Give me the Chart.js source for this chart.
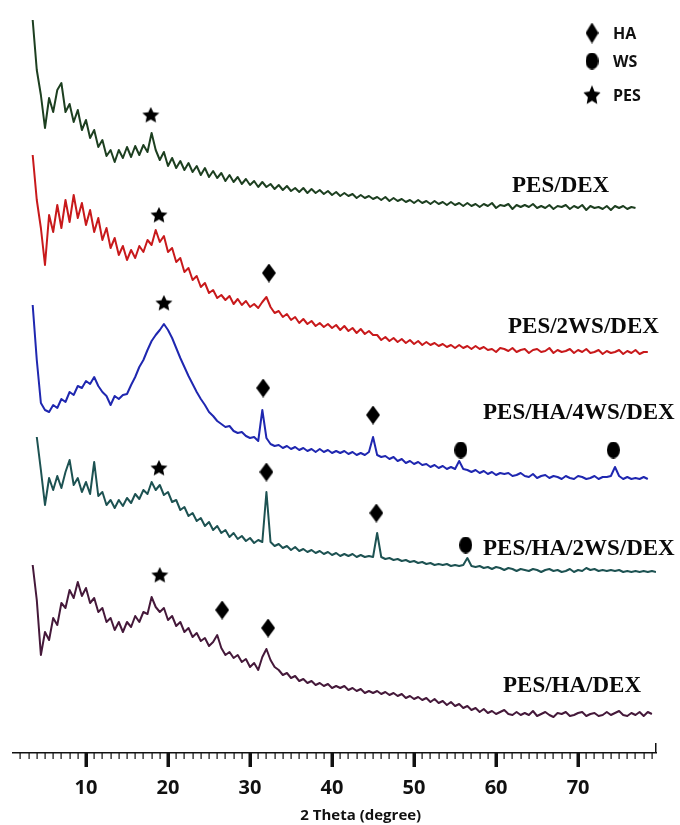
<!DOCTYPE html>
<html>
<head>
<meta charset="utf-8">
<script src="https://cdn.jsdelivr.net/npm/chart.js@4.4.1/dist/chart.umd.min.js"></script>
<style>
  html, body { margin: 0; padding: 0; background: #fff; }
  #xrd { display: block; }
</style>
</head>
<body>
<canvas id="xrd" width="680" height="825"></canvas>
<script>
// ========== Dados ==========
// eixo 2θ, passo de 0.5°
const twoTheta = [
  3.5, 4, 4.5, 5, 5.5, 6, 6.5, 7, 7.5, 8,
  8.5, 9, 9.5, 10, 10.5, 11, 11.5, 12, 12.5, 13,
  13.5, 14, 14.5, 15, 15.5, 16, 16.5, 17, 17.5, 18,
  18.5, 19, 19.5, 20, 20.5, 21, 21.5, 22, 22.5, 23,
  23.5, 24, 24.5, 25, 25.5, 26, 26.5, 27, 27.5, 28,
  28.5, 29, 29.5, 30, 30.5, 31, 31.5, 32, 32.5, 33,
  33.5, 34, 34.5, 35, 35.5, 36, 36.5, 37, 37.5, 38,
  38.5, 39, 39.5, 40, 40.5, 41, 41.5, 42, 42.5, 43,
  43.5, 44, 44.5, 45, 45.5, 46, 46.5, 47, 47.5, 48,
  48.5, 49, 49.5, 50, 50.5, 51, 51.5, 52, 52.5, 53,
  53.5, 54, 54.5, 55, 55.5, 56, 56.5, 57, 57.5, 58,
  58.5, 59, 59.5, 60, 60.5, 61, 61.5, 62, 62.5, 63,
  63.5, 64, 64.5, 65, 65.5, 66, 66.5, 67, 67.5, 68,
  68.5, 69, 69.5, 70, 70.5, 71, 71.5, 72, 72.5, 73,
  73.5, 74, 74.5, 75, 75.5, 76, 76.5, 77, 77.5, 78,
  78.5, 79, 79.5
];

// intensidades (u.a., já com o deslocamento vertical de cada curva)
const pesDex = [
  733, 683, 658, 625, 655, 641, 663, 670, 641, 649,
  631, 643, 623, 633, 615, 623, 606, 613, 597, 603,
  591, 603, 595, 606, 596, 607, 598, 608, 601, 620,
  603, 593, 601, 587, 595, 585, 592, 583, 590, 581,
  587, 578, 585, 576, 582, 575, 580, 572, 578, 571,
  576, 569, 574, 568, 572, 566, 571, 566, 569, 564,
  568, 563, 567, 562, 565, 561, 565, 560, 564, 560,
  563, 559, 562, 558, 561, 557, 560, 557, 559, 555,
  558, 555, 557, 554, 556, 553, 556, 552, 555, 552,
  554, 551, 553, 550, 553, 550, 552, 549, 552, 549,
  551, 548, 551, 548, 550, 547, 550, 547, 549, 546,
  549, 547, 550, 545, 548, 547, 549, 544, 548, 546,
  548, 546, 549, 545, 547, 545, 548, 544, 547, 546,
  548, 544, 547, 545, 548, 543, 547, 545, 546, 544,
  547, 543, 547, 545, 547, 544, 546, 545
];
const pes2wsDex = [
  598, 553, 525, 488, 538, 521, 548, 525, 553, 531,
  558, 535, 550, 528, 543, 521, 535, 513, 525, 505,
  515, 498, 507, 493, 503, 495, 507, 501, 513, 508,
  523, 511, 517, 501, 505, 491, 495, 481, 485, 473,
  477, 466, 470, 460, 463, 455, 458, 453, 457, 449,
  454, 448, 452, 446, 449, 445, 451, 456, 446, 440,
  442, 436, 439, 433, 436, 430, 434, 429, 432, 427,
  430, 426, 429, 425, 428, 423, 427, 422, 425, 420,
  424, 419, 422, 418, 418, 413, 416, 412, 415, 411,
  414, 410, 413, 409, 412, 408, 411, 408, 410, 407,
  409, 406, 408, 405, 408, 405, 407, 404, 407, 404,
  406, 403, 404, 401, 405, 404, 402, 405, 401, 403,
  404, 400, 403, 404, 401, 402, 405, 400, 403, 401,
  402, 404, 400, 403, 401, 404, 400, 401, 403, 399,
  402, 400, 401, 403, 399, 402, 400, 403, 399, 401,
  401
];
const pesHa4wsDex = [
  448, 393, 350, 343, 341, 348, 345, 354, 351, 361,
  358, 367, 365, 372, 369, 376, 367, 361, 357, 348,
  357, 354, 358, 359, 368, 376, 386, 393, 403, 412,
  418, 423, 429, 423, 415, 405, 395, 386, 377, 369,
  361, 354, 348, 341, 337, 332, 329, 326, 327, 322,
  320, 321, 317, 315, 316, 312, 343, 315, 309, 307,
  308, 305, 307, 304, 306, 303, 305, 302, 304, 301,
  304, 301, 303, 300, 302, 300, 302, 299, 301, 298,
  300, 298, 301, 316, 298, 296, 297, 294, 296, 292,
  294, 290, 292, 289, 291, 288, 289, 286, 288, 285,
  287, 284, 286, 284, 292, 284, 283, 281, 283, 280,
  282, 279, 281, 278, 280, 279, 280, 277, 278, 280,
  277, 276, 279, 275, 277, 278, 275, 277, 276, 274,
  277, 275, 274, 277, 276, 274, 275, 277, 274, 276,
  276, 277, 286, 277, 274, 276, 274, 275, 274, 276,
  274
];
const pesHa2wsDex = [
  null, 316, 283, 248, 275, 263, 277, 265, 281, 293,
  268, 275, 261, 271, 259, 291, 257, 261, 248, 253,
  245, 253, 247, 255, 250, 259, 254, 263, 259, 271,
  263, 268, 258, 261, 251, 253, 243, 246, 237, 240,
  232, 235, 227, 231, 223, 227, 220, 223, 216, 220,
  214, 217, 212, 215, 210, 213, 211, 261, 211, 207,
  209, 205, 207, 203, 206, 202, 204, 201, 203, 200,
  202, 199, 201, 198, 200, 197, 199, 197, 199, 196,
  198, 196, 197, 196, 220, 196, 194, 195, 193, 194,
  192, 193, 191, 192, 190, 191, 189, 190, 188, 189,
  188, 189, 187, 188, 187, 188, 195, 187, 186, 187,
  185, 186, 184, 186, 185, 183, 185, 184, 182, 184,
  183, 182, 184, 183, 181, 183, 184, 182, 183, 181,
  182, 184, 181, 183, 182, 185, 183, 184, 182, 183,
  182, 183, 182, 183, 181, 182, 181, 182, 181, 182,
  181, 182, 181
];
const pesHaDex = [
  188, 153, 98, 121, 113, 135, 128, 150, 145, 163,
  155, 171, 157, 165, 150, 155, 141, 145, 131, 135,
  123, 131, 121, 131, 126, 137, 131, 141, 139, 156,
  146, 141, 145, 133, 137, 127, 131, 121, 125, 116,
  120, 112, 115, 107, 111, 118, 105, 98, 101, 95,
  98, 91, 94, 86, 90, 83, 96, 104, 93, 86,
  83, 78, 80, 75, 77, 72, 74, 70, 72, 68,
  70, 67, 69, 65, 67, 65, 67, 63, 65, 62,
  64, 60, 62, 60, 62, 59, 61, 58, 60, 57,
  59, 55, 57, 54, 56, 53, 55, 51, 54, 50,
  52, 48, 51, 47, 49, 45, 47, 43, 45, 41,
  44, 40, 42, 39, 41, 43, 39, 38, 41, 38,
  40, 38, 42, 37, 39, 41, 38, 36, 40, 39,
  41, 37, 38, 40, 41, 37, 39, 40, 37, 38,
  41, 38, 40, 42, 38, 37, 40, 38, 41, 37,
  41, 39
];

const seriesNames = ['PES/DEX', 'PES/2WS/DEX', 'PES/HA/4WS/DEX', 'PES/HA/2WS/DEX', 'PES/HA/DEX'];

// marcadores de picos (2θ, altura)
const pesMarkTheta = [17.9, 18.9, 19.5, 18.9, 19.0];
const pesMarkHeight = [638, 538, 450, 285, 178];
const haMarkTheta = [32.3, 31.6, 45.0, 32.0, 45.4, 26.6, 32.2];
const haMarkHeight = [480, 365, 338, 281, 240, 143, 125];
const wsMarkTheta = [55.7, 74.3, 56.3];
const wsMarkHeight = [303, 303, 208];

const tickLabels = [10, 20, 30, 40, 50, 60, 70];
const legendNames = ['HA', 'WS', 'PES'];

// ========== Estilos ==========
const seriesColors = ['#1d3f20', '#c8191b', '#1f27b0', '#1d5252', '#45193a'];
const seriesLabelAt = [[61.95, 567], [61.46, 426], [58.41, 340], [58.41, 204], [60.85, 67]];

function markerImage(kind, w, h) {
  const c = document.createElement('canvas');
  c.width = w; c.height = h;
  const g = c.getContext('2d');
  g.fillStyle = '#000';
  g.beginPath();
  if (kind === 'diamond') {
    g.moveTo(w / 2, 0); g.lineTo(w, h / 2); g.lineTo(w / 2, h); g.lineTo(0, h / 2);
  } else if (kind === 'circle') {
    g.ellipse(w / 2, h / 2, w / 2, h / 2, 0, 0, Math.PI * 2);
  } else {
    const cx = w / 2, cy = h * 0.53, R = w / 2, r = w * 0.24;
    for (let i = 0; i < 10; i++) {
      const a = -Math.PI / 2 + i * Math.PI / 5;
      const rad = i % 2 === 0 ? R : r;
      const px = cx + rad * Math.cos(a), py = cy + rad * Math.sin(a) * (h / w);
      if (i === 0) g.moveTo(px, py); else g.lineTo(px, py);
    }
  }
  g.closePath();
  g.fill();
  return c;
}

const imgDiamond = markerImage('diamond', 14, 19);
const imgCircle = markerImage('circle', 13, 17);
const imgStar = markerImage('star', 18, 17);
const legendImgs = [markerImage('diamond', 13, 21), markerImage('circle', 13, 17), markerImage('star', 18, 21)];

function toPoints(values) {
  return values.map((v, i) => ({ x: twoTheta[i], y: v }));
}
function toMarks(xs, ys) {
  return xs.map((v, i) => ({ x: v, y: ys[i] }));
}

// ========== Plugin: marcas do eixo, título, legenda e rótulos ==========
const decorPlugin = {
  id: 'decor',
  afterDraw(chart) {
    const { ctx, chartArea, scales: { x, y } } = chart;
    const base = chartArea.bottom;
    ctx.save();
    ctx.fillStyle = '#111';
    x.ticks.forEach(t => {
      if (!Number.isInteger(t.value) || t.value < 2) return;
      const px = x.getPixelForValue(t.value);
      if (tickLabels.includes(t.value)) ctx.fillRect(Math.round(px) - 1.5, base, 3.5, 14);
      else ctx.fillRect(Math.round(px) - 0.5, base, 1.2, 6);
    });
    ctx.fillRect(chartArea.right - 1, base - 10, 1.5, 10);

    // título do eixo x
    ctx.font = 'bold 15px "Open Sans"';
    ctx.textAlign = 'center';
    ctx.textBaseline = 'middle';
    ctx.fillText('2 Theta (degree)', x.getPixelForValue(43.5), base + 63);

    // legenda
    ctx.font = 'bold 16px "Open Sans"';
    ctx.textAlign = 'left';
    const legY = [33, 61, 95];
    legendNames.forEach((name, i) => {
      const im = legendImgs[i];
      ctx.drawImage(im, 592 - im.width / 2, legY[i] - im.height / 2);
      ctx.fillText(name, 613, legY[i] + 1);
    });

    // rótulos das amostras
    ctx.font = 'bold 23px "Liberation Serif"';
    ctx.fillStyle = '#0a0a0a';
    seriesNames.forEach((name, i) => {
      const [t, h] = seriesLabelAt[i];
      ctx.fillText(name, x.getPixelForValue(t), y.getPixelForValue(h));
    });
    ctx.restore();
  }
};

// ========== Gráfico ==========
Chart.defaults.font.family = '"Open Sans", sans-serif';
Chart.defaults.color = '#111';

const allSeries = [pesDex, pes2wsDex, pesHa4wsDex, pesHa2wsDex, pesHaDex];
const lineSets = allSeries.map((vals, i) => ({
  type: 'line',
  label: seriesNames[i],
  data: toPoints(vals),
  borderColor: seriesColors[i],
  borderWidth: 2,
  borderJoinStyle: 'round',
  pointRadius: 0,
  pointHitRadius: 0,
  tension: 0,
  spanGaps: false
}));

// raio pequeno: a imagem define o tamanho, e não cria margem extra no layout
const markSets = [
  { data: toMarks(pesMarkTheta, pesMarkHeight), pointStyle: imgStar },
  { data: toMarks(haMarkTheta, haMarkHeight), pointStyle: imgDiamond },
  { data: toMarks(wsMarkTheta, wsMarkHeight), pointStyle: imgCircle }
].map(m => ({ type: 'scatter', showLine: false, pointRadius: 1, pointBorderWidth: 0, clip: false, ...m }));

new Chart(document.getElementById('xrd'), {
  data: { datasets: [...lineSets, ...markSets] },
  options: {
    responsive: false,
    animation: false,
    devicePixelRatio: 1,
    layout: { autoPadding: false, padding: { left: 13, right: 24, top: 0, bottom: 0 } },
    plugins: { legend: { display: false }, tooltip: { enabled: false } },
    scales: {
      x: {
        type: 'linear',
        min: 1.1,
        max: 79.5,
        // altura fixa do eixo e sem margem extra vinda dos rótulos
        afterFit: s => { s.height = 72; s.paddingLeft = 0; s.paddingRight = 0; },
        grid: { display: false, drawTicks: false },
        border: { display: true, color: '#111', width: 1.5 },
        ticks: {
          stepSize: 1,
          maxTicksLimit: 200,
          includeBounds: false,
          autoSkip: false,
          maxRotation: 0,
          padding: 23,
          font: { size: 20, weight: 'bold' },
          callback: v => (tickLabels.includes(v) ? String(v) : '')
        }
      },
      y: { type: 'linear', display: false, min: 0, max: 753 }
    }
  },
  plugins: [decorPlugin]
});
</script>
</body>
</html>
